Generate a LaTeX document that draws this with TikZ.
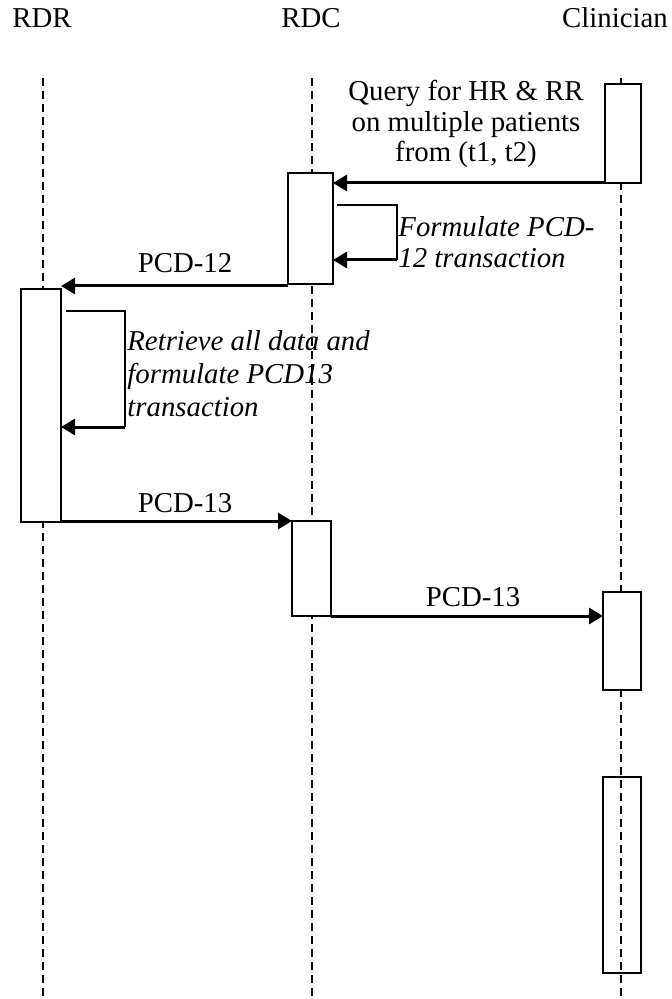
\documentclass[tikz,border=0pt]{standalone}
\usepackage{fontspec}
\setmainfont{Liberation Serif}
\usetikzlibrary{arrows.meta,positioning}

\begin{document}
\begin{tikzpicture}[
    x=0.5pt, y=-0.5pt,
    every node/.style={font=\fontsize{14.4}{15.2}\selectfont, inner sep=0pt},
    life/.style={line width=1.2pt, dash pattern=on 4pt off 2.5pt},
    act/.style={draw, line width=1.2pt, outer sep=0pt},
    msg/.style={line width=1.5pt, -{Triangle[length=7pt,width=8pt]}},
    loopline/.style={line width=1.2pt},
    note/.style={align=left, anchor=west, font=\fontsize{14.4}{15.2}\selectfont\itshape}
]
\useasboundingbox (0,0) rectangle (671,999);
% Lifelines with their headers
\foreach \name/\hx/\lx in {RDR/42/43, RDC/311/312, Clinician/615/621} {
    \node[anchor=base] (h\name) at (\hx,28) {\name};
    \coordinate (t\name) at (\lx,78);
    \coordinate (e\name) at (\lx,999);
    \draw[life] (t\name) -- (e\name);
}
% Activation boxes (left, top, right, bottom in px)
\foreach \name/\xa/\ya/\xb/\yb/\fc in {
    clinA/605/84/641/183/white,
    rdcA/288/173/333/284/white,
    rdr/21/289/61/522/white,
    rdcB/292/521/331/616/white,
    clinB/603/592/641/690/white,
    clinC/603/777/641/973/none} {
    \pgfmathsetmacro{\bw}{(\xb-\xa)/2}
    \pgfmathsetmacro{\bh}{(\yb-\ya)/2}
    \node[act, fill=\fc, minimum width=\bw pt, minimum height=\bh pt] (\name) at ({(\xa+\xb)/2},{(\ya+\yb)/2}) {};
}
% Query from the clinician
\draw[msg] (clinA.south west) -- (clinA.south west -| rdcA.east);
\node[align=center] (lquery) at (466,124) {Query for HR \& RR\\on multiple patients\\from (t1, t2)};
% RDC formulates PCD-12
\coordinate (sA0) at (337,205);
\coordinate (sA1) at (397,205);
\coordinate (sA2) at (397,260);
\draw[loopline] (sA0) -- (sA1) -- (sA2);
\draw[msg] (sA2) -- (sA2 -| rdcA.east);
\node[note] (lform) at (398,242) {Formulate PCD-\\12 transaction};
% PCD-12 to RDR
\coordinate (p12) at ([yshift=-1pt]rdcA.south west);
\draw[msg] (p12) -- (p12 -| rdr.east);
\node[anchor=base] (lpcdA) at (185,273) {PCD-12};
% RDR retrieves data
\coordinate (sB0) at (66,311);
\coordinate (sB1) at (125,311);
\coordinate (sB2) at (125,427);
\draw[loopline] (sB0) -- (sB1) -- (sB2);
\draw[msg] (sB2) -- (sB2 -| rdr.east);
\node[note, font=\fontsize{14.4}{16.5}\selectfont\itshape] (lret) at (127,374) {Retrieve all data and\\formulate PCD13\\transaction};
% PCD-13 back to RDC, then on to the clinician
\draw[msg] (rdr.east |- rdcB.north west) -- (rdcB.north west);
\node[anchor=base] (lpcdB) at (185,512) {PCD-13};
\draw[msg] (rdcB.south east) -- (rdcB.south east -| clinB.west);
\node[anchor=base] (lpcdC) at (473,606) {PCD-13};
\end{tikzpicture}
\end{document}
